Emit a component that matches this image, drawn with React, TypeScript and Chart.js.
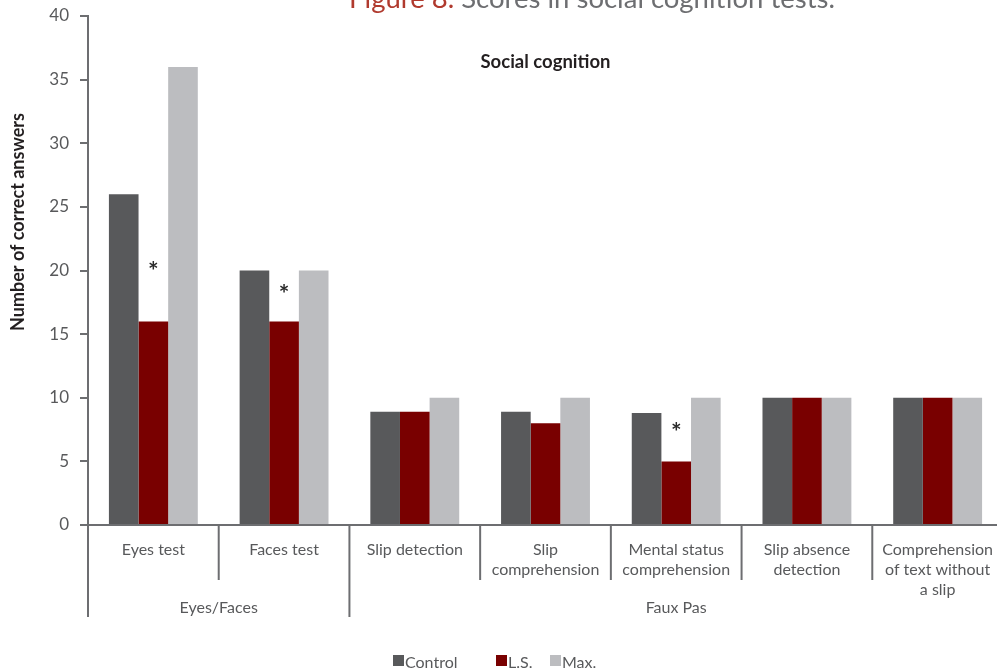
import React, { useEffect, useRef } from "react";
import { Chart, registerables } from "chart.js";

Chart.register(...registerables);

const categories: (string | string[])[] = [
  "Eyes test",
  "Faces test",
  "Slip detection",
  ["Slip", "comprehension"],
  ["Mental status", "comprehension"],
  ["Slip absence", "detection"],
  ["Comprehension", "of text without", "a slip"],
];
const controlValues = [26, 20, 8.9, 8.9, 8.8, 10, 10];
const lsValues = [16, 16, 8.9, 8.0, 5, 10, 10];
const maxValues = [36, 20, 10, 10, 10, 10, 10];
// asterisk marks above the L.S. bars (value on y scale), null = none
const asteriskValues: (number | null)[] = [20.3, 18.5, null, null, 7.6, null, null];
const groupLabels = ["Eyes/Faces", "Faux Pas"];
const groupStarts = [0, 2];
const groupEnds = [1, 6];
const yTicks = [0, 5, 10, 15, 20, 25, 30, 35, 40];

const FONT = "Lato, 'Open Sans', sans-serif";
const AXIS = "#6d6e71";
const TEXT = "#58595b";
const DARK = "#231f20";

const overlay = {
  id: "overlay",
  afterDraw(chart: any) {
    const ctx = chart.ctx;
    const xs = chart.scales.x;
    const ys = chart.scales.y;
    const area = chart.chartArea;
    const n = categories.length;
    const half = (xs.getPixelForValue(1) - xs.getPixelForValue(0)) / 2;
    const boundary = (i: number) => xs.getPixelForValue(i) - half;

    ctx.save();
    ctx.strokeStyle = AXIS;
    ctx.lineWidth = 2;
    // separators
    for (let i = 0; i <= n; i++) {
      const x = boundary(i);
      const isGroup = groupStarts.includes(i);
      const yEnd = isGroup ? 617 : 580;
      ctx.beginPath();
      ctx.moveTo(x, area.bottom);
      ctx.lineTo(x, yEnd);
      ctx.stroke();
    }
    // group labels
    ctx.fillStyle = TEXT;
    ctx.font = `16px ${FONT}`;
    ctx.textAlign = "center";
    ctx.textBaseline = "middle";
    groupLabels.forEach((lab, g) => {
      const x0 = boundary(groupStarts[g]);
      const x1 = boundary(groupEnds[g] + 1);
      ctx.fillText(lab, (x0 + x1) / 2, 608);
    });

    // asterisks
    const lsMeta = chart.getDatasetMeta(1);
    ctx.fillStyle = "#2a2a2a";
    ctx.font = `bold 25px ${FONT}`;
    ctx.textBaseline = "middle";
    asteriskValues.forEach((v, i) => {
      if (v == null) return;
      const bar = lsMeta.data[i];
      ctx.fillText("*", bar.x, ys.getPixelForValue(v) + 5);
    });

    // inner title
    ctx.fillStyle = DARK;
    ctx.font = `bold 18.5px ${FONT}`;
    ctx.textAlign = "center";
    ctx.fillText("Social cognition", (area.left + area.right) / 2, 62);

    // figure title
    ctx.font = `27.5px ${FONT}`;
    ctx.textBaseline = "alphabetic";
    ctx.textAlign = "left";
    const t1 = "Figure 8. ";
    const t2 = "Scores in social cognition tests.";
    const w1 = ctx.measureText(t1).width;
    const w2 = ctx.measureText(t2).width;
    const start = 592 - (w1 + w2) / 2;
    ctx.fillStyle = "#b03a2e";
    ctx.fillText(t1, start, 8);
    ctx.fillStyle = AXIS;
    ctx.fillText(t2, start + w1, 8);

    // y title
    ctx.save();
    ctx.translate(18, 222);
    ctx.rotate(-Math.PI / 2);
    ctx.fillStyle = DARK;
    ctx.font = `bold 18px ${FONT}`;
    ctx.textAlign = "center";
    ctx.textBaseline = "middle";
    ctx.fillText("Number of correct answers", 0, 0);
    ctx.restore();

    // legend
    const legendX = [393, 496, 550];
    ctx.font = `16px ${FONT}`;
    ctx.textAlign = "left";
    ctx.textBaseline = "middle";
    chart.data.datasets.forEach((ds: any, i: number) => {
      const x = legendX[i];
      ctx.fillStyle = ds.backgroundColor;
      ctx.fillRect(x, 655, 11, 11);
      ctx.fillStyle = TEXT;
      ctx.fillText(ds.label, x + 12, 663);
    });
    ctx.restore();
  },
  beforeDatasetsDraw(chart: any) {
    const ctx = chart.ctx;
    const area = chart.chartArea;
    ctx.save();
    ctx.strokeStyle = AXIS;
    ctx.lineWidth = 2;
    ctx.beginPath();
    ctx.moveTo(area.left, area.bottom);
    ctx.lineTo(area.left, 617);
    ctx.stroke();
    ctx.restore();
  },
};

export default function App() {
  const ref = useRef<HTMLCanvasElement | null>(null);
  useEffect(() => {
    document.body.style.margin = "0";
    if (!ref.current) return;
    const chart = new Chart(ref.current, {
      type: "bar",
      data: {
        labels: categories,
        datasets: [
          { label: "Control", data: controlValues, backgroundColor: "#58595b" },
          { label: "L.S.", data: lsValues, backgroundColor: "#790000" },
          { label: "Max.", data: maxValues, backgroundColor: "#bcbdc0" },
        ],
      },
      options: {
        animation: false,
        responsive: false,
        maintainAspectRatio: false,
        layout: { padding: { left: 0, right: 3, top: 16, bottom: 0 } },
        datasets: { bar: { categoryPercentage: 0.68, barPercentage: 1 } },
        plugins: {
          legend: { display: false },
          title: { display: false },
          tooltip: { enabled: false },
        },
        scales: {
          x: {
            offset: true,
            grid: { display: false, drawTicks: false },
            border: { display: true, color: AXIS, width: 2 },
            ticks: {
              color: TEXT,
              font: { family: FONT, size: 16, lineHeight: 1.25 },
              padding: 15,
              maxRotation: 0,
              autoSkip: false,
            },
            afterFit(scale: any) {
              scale.height = 144;
              scale.paddingLeft = 0;
              scale.paddingRight = 0;
            },
          },
          y: {
            min: 0,
            max: 40,
            afterBuildTicks(scale: any) {
              scale.ticks = yTicks.map((v) => ({ value: v }));
            },
            grid: {
              drawOnChartArea: false,
              drawTicks: true,
              tickLength: 8,
              color: AXIS,
              lineWidth: 2,
            },
            border: { display: true, color: AXIS, width: 2 },
            ticks: {
              color: TEXT,
              font: { family: FONT, size: 17 },
              padding: 11,
            },
            afterFit(scale: any) {
              scale.width = 88;
              scale.paddingTop = 0;
              scale.paddingBottom = 0;
            },
          },
        },
      },
      plugins: [overlay],
    });
    return () => chart.destroy();
  }, []);
  return (
    <div style={{ width: 997, height: 669, overflow: "hidden", position: "relative" }}>
      <canvas ref={ref} width={1006} height={669} style={{ width: 1006, height: 669, display: "block" }} />
    </div>
  );
}
